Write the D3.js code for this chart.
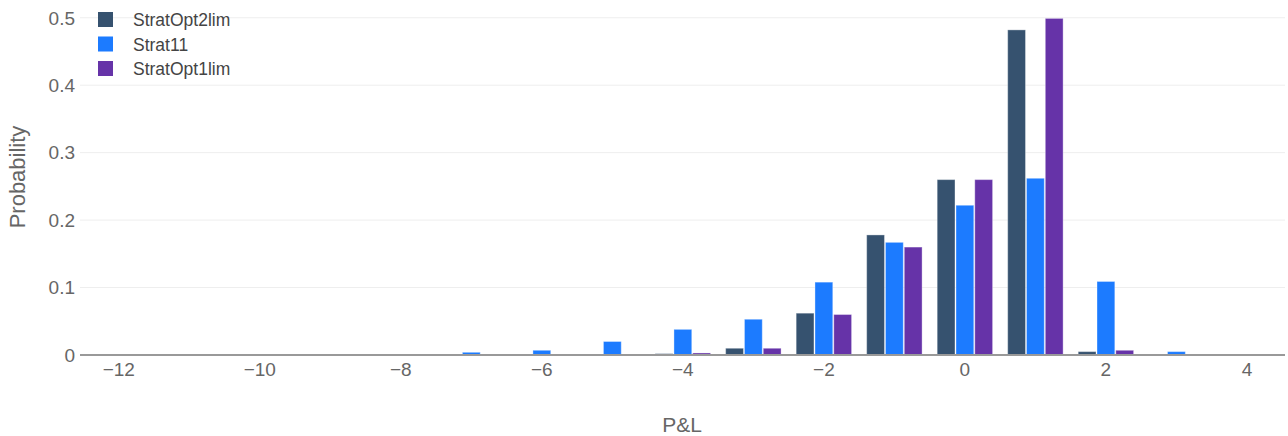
<!DOCTYPE html>
<html><head><meta charset="utf-8">
<script src="https://cdn.jsdelivr.net/npm/d3@7"></script>
<style>body{margin:0;background:#fff;} text{font-family:"Liberation Sans",Arial,sans-serif;}</style>
</head><body><svg id="c" width="1288" height="436"></svg>
<script>
const categories = [-9,-8,-7,-6,-5,-4,-3,-2,-1,0,1,2,3];
const seriesNames = ["StratOpt2lim","Strat11","StratOpt1lim"];
const stratOpt2lim = [0,0,0,0,0.0008,0.002,0.010,0.062,0.178,0.260,0.482,0.005,0];
const strat11      = [0.001,0.001,0.004,0.007,0.020,0.038,0.053,0.108,0.167,0.222,0.262,0.109,0.005];
const stratOpt1lim = [0,0,0,0,0,0.003,0.010,0.060,0.160,0.260,0.499,0.007,0];
const colors = ["#36526F","#1C7BFF","#6633A8"];
const xTicks = [-12,-10,-8,-6,-4,-2,0,2,4];
const yTicks = [0,0.1,0.2,0.3,0.4,0.5];

const svg = d3.select("#c");
const L=80, R=1285, T=0, B=355;
const x = d3.scaleLinear().domain([-12.55,4.54]).range([L,R]);
const y = d3.scaleLinear().domain([0,0.5263]).range([B,T]);
const series=[stratOpt2lim,strat11,stratOpt1lim];

// grid
svg.append("g").selectAll("line").data(yTicks.filter(d=>d>0)).join("line")
 .attr("x1",L).attr("x2",R).attr("y1",d=>y(d)).attr("y2",d=>y(d))
 .attr("stroke","#eeeeee").attr("stroke-width",1);

// bars
const unit = x(1)-x(0);
const groupW = unit*0.8, barW = groupW/3;
series.forEach((s,i)=>{
  svg.append("g").selectAll("rect").data(categories.map((c,j)=>({c,v:s[j]})).filter(d=>d.v>0)).join("rect")
   .attr("x",d=>x(d.c)-groupW/2+i*barW+0.5)
   .attr("width",barW-1)
   .attr("y",d=>y(d.v))
   .attr("height",d=>B-y(d.v))
   .attr("fill",colors[i])
   .attr("stroke","rgba(255,255,255,0.35)").attr("stroke-width",1);
});

// zero line
svg.append("line").attr("x1",L).attr("x2",R).attr("y1",B).attr("y2",B)
 .attr("stroke","#999").attr("stroke-width",2);

// y labels
svg.append("g").selectAll("text").data(yTicks).join("text")
 .attr("x",75).attr("y",d=>y(d)).attr("dy","0.36em").attr("text-anchor","end")
 .attr("font-size",19).attr("fill","#666").text(d=>d===0?"0":d3.format(".1f")(d));
// x labels
svg.append("g").selectAll("text").data(xTicks).join("text")
 .attr("x",d=>x(d)).attr("y",376).attr("text-anchor","middle")
 .attr("font-size",19).attr("fill","#666").text(d=>d<0?"\u2212"+Math.abs(d):d);

// axis titles
svg.append("text").attr("x",682).attr("y",432).attr("text-anchor","middle")
 .attr("font-size",21).attr("fill","#666").text("P&L");
svg.append("text").attr("transform","translate(25,177) rotate(-90)").attr("text-anchor","middle")
 .attr("font-size",22).attr("fill","#666").text("Probability");

// legend
const lg = svg.append("g");
seriesNames.forEach((n,i)=>{
  lg.append("rect").attr("x",98).attr("y",12+i*24.5).attr("width",15).attr("height",15).attr("fill",colors[i]);
  lg.append("text").attr("x",133).attr("y",26+i*24.5).attr("font-size",17.5).attr("fill","#444").text(n);
});
</script></body></html>
